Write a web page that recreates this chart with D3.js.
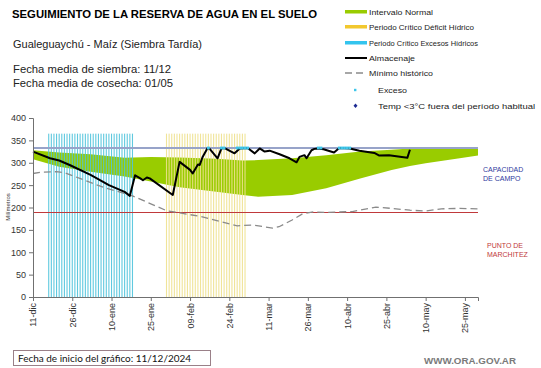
<!DOCTYPE html>
<html>
<head>
<meta charset="UTF-8">
<script src="https://cdn.jsdelivr.net/npm/d3@7/dist/d3.min.js"></script>
<style>
  body { margin: 0; background: #fff; }
  text { font-family: "Liberation Sans", Arial, sans-serif; }
</style>
</head>
<body>
<svg width="541" height="368"></svg>
<script>
// days counted from 11-dic-2024
var tickDays = [0, 15, 30, 45, 60, 75, 90, 105, 120, 135, 150, 165];
var tickLabels = ["11-dic", "26-dic", "10-ene", "25-ene", "09-feb", "24-feb",
                  "11-mar", "26-mar", "10-abr", "25-abr", "10-may", "25-may"];
var yTicks = [0, 50, 100, 150, 200, 250, 300, 350, 400];

// intervalo normal (banda verde)
var normalDays  = [0, 10, 22, 35, 45, 56, 70, 80, 86, 99, 112, 125, 137, 144, 150, 163, 170];
var normalUpper = [328, 323, 319, 311, 313, 312, 309, 305, 306, 310, 317, 325, 329, 332, 333, 333, 333];
var normalLower = [308, 291, 280, 269, 258, 245, 235, 228, 224, 228, 243, 265, 284, 293, 299, 310, 316];

// almacenaje
var almDays = [0, 6.5, 10, 14, 22, 29, 35, 37, 39, 41, 42, 43.5, 44.6, 53.4, 56, 60, 61, 63, 63.7, 64.8,
               66.7, 67.5, 70.5, 72, 73, 77, 79, 82, 84.7, 86.6, 88.5, 90.4, 94.2, 98, 100.7, 101.8,
               103.7, 104.5, 106.4, 107.5, 108.7, 111, 115, 117, 121, 124.7, 130.4, 132.3, 136, 143, 144];
var almVals = [325, 310, 305, 295, 273, 250, 235, 226, 272, 265, 261, 267, 265, 228, 302, 284, 276, 296, 295, 313,
               333, 331, 310, 332, 333, 321, 332, 333, 321, 332, 325, 327, 319, 310, 301, 313,
               317, 310, 328, 331, 332, 330, 323, 333, 332, 327, 322, 316, 317, 311, 329];

// minimo historico
var minDays = [0, 3, 9, 12, 26, 38, 51, 64, 78, 84, 91.5, 94, 99, 103, 107, 112, 122, 131, 137, 144, 150, 156, 163, 170];
var minVals = [276, 279, 280, 278, 247, 226, 193, 180, 159, 161, 154, 157, 172, 186, 190, 189, 191, 201, 198, 194, 192, 197, 198, 197];

// dias con exceso
var excesoDays = [67, 72, 73, 78, 79, 80, 81, 82, 109, 110, 117, 118, 119, 120, 121];

// periodos criticos [desde, hasta]
var periodoExcesos = [6, 38];
var periodoDeficit = [51, 81];
var barTop = 365;

var capacidadCampo = 333;
var puntoMarchitez = 191;

var svg = d3.select("svg");
var x = d3.scaleLinear().domain([0, 170]).range([33, 478]);
var y = d3.scaleLinear().domain([0, 400]).range([297, 118]);

// banda normal
var band = normalDays.map(function(d, i) { return {d: d, hi: normalUpper[i], lo: normalLower[i]}; });
svg.append("path")
  .datum(band)
  .attr("fill", "#99cc00")
  .attr("d", d3.area().x(function(p) { return x(p.d); })
    .y0(function(p) { return y(p.lo); }).y1(function(p) { return y(p.hi); }));

// barras de periodos criticos
function bars(range, color) {
  svg.append("g").selectAll("rect")
    .data(d3.range(range[0], range[1] + 1))
    .enter().append("rect")
    .attr("x", function(d) { return x(d) - 0.55; })
    .attr("y", y(barTop))
    .attr("width", 1.1)
    .attr("height", y(0) - y(barTop))
    .attr("fill", color)
    .attr("opacity", 0.9);
}
bars(periodoExcesos, "#4fc3dc");
bars(periodoDeficit, "#eee18e");

// lineas de capacidad y marchitez
var yCap = Math.round(y(capacidadCampo));
var yMar = Math.round(y(puntoMarchitez)) + 0.5;
svg.append("line").attr("x1", x(0)).attr("x2", x(170))
  .attr("y1", yCap).attr("y2", yCap)
  .attr("stroke", "#97a3c9").attr("stroke-width", 2);
svg.append("line").attr("x1", x(0)).attr("x2", x(170))
  .attr("y1", yMar).attr("y2", yMar)
  .attr("stroke", "#c0393b").attr("stroke-width", 1);

// minimo historico
svg.append("path")
  .datum(minDays.map(function(d, i) { return [d, minVals[i]]; }))
  .attr("fill", "none").attr("stroke", "#8a8a8a").attr("stroke-width", 1.3)
  .attr("stroke-dasharray", "7,4")
  .attr("d", d3.line().x(function(p) { return x(p[0]); }).y(function(p) { return y(p[1]); }));

// almacenaje
svg.append("path")
  .datum(almDays.map(function(d, i) { return [d, almVals[i]]; }))
  .attr("fill", "none").attr("stroke", "#000").attr("stroke-width", 2)
  .attr("stroke-linejoin", "round")
  .attr("d", d3.line().x(function(p) { return x(p[0]); }).y(function(p) { return y(p[1]); }));

// exceso
svg.append("g").selectAll("rect")
  .data(excesoDays)
  .enter().append("rect")
  .attr("x", function(d) { return x(d) - 1.4; })
  .attr("y", y(capacidadCampo) - 1.4)
  .attr("width", 2.8).attr("height", 2.8)
  .attr("fill", "#3ec6ea");

// ejes
var yAxis = svg.append("g").attr("transform", "translate(33,0)")
  .call(d3.axisLeft(y).tickValues(yTicks).tickSize(4).tickPadding(3));
var xAxis = svg.append("g").attr("transform", "translate(0,297)")
  .call(d3.axisBottom(x).tickValues(tickDays).tickSize(4)
    .tickFormat(function(d, i) { return tickLabels[i]; }));
[yAxis, xAxis].forEach(function(a) {
  a.select(".domain").attr("stroke", "#707070");
  a.selectAll(".tick line").attr("stroke", "#707070");
  a.selectAll("text").attr("fill", "#333").style("font-size", "9px")
    .style("font-family", "Liberation Sans, Arial, sans-serif");
});
xAxis.selectAll("text")
  .attr("transform", "rotate(-90)")
  .attr("text-anchor", "end")
  .attr("x", -6).attr("y", 0).attr("dy", "0.33em");

svg.append("text")
  .attr("transform", "translate(10,207) rotate(-90)")
  .attr("text-anchor", "middle")
  .style("font-size", "6px").attr("fill", "#333")
  .text("Milímetros");

// textos
svg.append("text").attr("x", 12).attr("y", 18)
  .style("font-size", "10px").style("font-weight", "bold")
  .attr("textLength", 305).attr("lengthAdjust", "spacingAndGlyphs")
  .text("SEGUIMIENTO DE LA RESERVA DE AGUA  EN EL SUELO");
svg.append("text").attr("x", 13).attr("y", 48).style("font-size", "11px").attr("fill", "#222")
  .attr("textLength", 189).attr("lengthAdjust", "spacingAndGlyphs")
  .text("Gualeguaychú  - Maíz  (Siembra Tardía)");
svg.append("text").attr("x", 13).attr("y", 73).style("font-size", "11px").attr("fill", "#222")
  .attr("textLength", 158).attr("lengthAdjust", "spacingAndGlyphs")
  .text("Fecha media de siembra: 11/12");
svg.append("text").attr("x", 13).attr("y", 87).style("font-size", "11px").attr("fill", "#222")
  .attr("textLength", 160).attr("lengthAdjust", "spacingAndGlyphs")
  .text("Fecha media de cosecha: 01/05");

svg.append("text").attr("x", 483).attr("y", 172).style("font-size", "7px").attr("fill", "#2e3a9e").text("CAPACIDAD");
svg.append("text").attr("x", 483).attr("y", 181).style("font-size", "7px").attr("fill", "#2e3a9e").text("DE  CAMPO");
svg.append("text").attr("x", 487).attr("y", 248).style("font-size", "7px").attr("fill", "#c0393b").text("PUNTO  DE");
svg.append("text").attr("x", 487).attr("y", 257).style("font-size", "7px").attr("fill", "#c0393b").text("MARCHITEZ");

// leyenda
var lg = svg.append("g");
lg.append("rect").attr("x", 345).attr("y", 10).attr("width", 22).attr("height", 3.5).attr("fill", "#99cc00");
lg.append("rect").attr("x", 345).attr("y", 25).attr("width", 22).attr("height", 3.5).attr("fill", "#f2c82e");
lg.append("rect").attr("x", 345).attr("y", 41).attr("width", 22).attr("height", 3.5).attr("fill", "#33c4ee");
lg.append("line").attr("x1", 345).attr("x2", 367).attr("y1", 58).attr("y2", 58).attr("stroke", "#000").attr("stroke-width", 2);
lg.append("line").attr("x1", 345).attr("x2", 367).attr("y1", 73).attr("y2", 73)
  .attr("stroke", "#8a8a8a").attr("stroke-width", 1.5).attr("stroke-dasharray", "7,4");
lg.append("rect").attr("x", 354).attr("y", 88.8).attr("width", 2.4).attr("height", 2.4).attr("fill", "#3ec6ea");
lg.append("path").attr("d", "M355.5,103.5 L357.5,105.8 L355.5,108.1 L353.5,105.8 Z").attr("fill", "#1c2a92");
var legendTexts = [
  ["Intervalo Normal", 369, 14.5, 64],
  ["Periodo Crítico Déficit Hídrico", 369, 29.5, 105],
  ["Periodo Crítico Excesos Hídricos", 369, 45.5, 109],
  ["Almacenaje", 369, 61, 46],
  ["Mínimo histórico", 369, 76, 64],
  ["Exceso", 378, 93, 29],
  ["Temp <3°C fuera del período habitual", 378, 109, 157]
];
lg.selectAll("text").data(legendTexts).enter().append("text")
  .attr("x", function(d) { return d[1]; }).attr("y", function(d) { return d[2]; })
  .attr("textLength", function(d) { return d[3]; }).attr("lengthAdjust", "spacingAndGlyphs")
  .style("font-size", "8px").attr("fill", "#222")
  .text(function(d) { return d[0]; });

// pie
svg.append("rect").attr("x", 13.5).attr("y", 350.5).attr("width", 197).attr("height", 15)
  .attr("fill", "none").attr("stroke", "#9a8088").attr("stroke-width", 1);
svg.append("text").attr("x", 18).attr("y", 361.5)
  .style("font-size", "10px").style("font-family", "Lato, sans-serif").attr("fill", "#111")
  .attr("textLength", 173).attr("lengthAdjust", "spacingAndGlyphs")
  .text("Fecha de inicio del gráfico:   11/12/2024");
svg.append("text").attr("x", 424).attr("y", 364)
  .style("font-size", "9px").style("font-weight", "bold").attr("fill", "#7a7a7a")
  .attr("textLength", 92).attr("lengthAdjust", "spacingAndGlyphs")
  .text("WWW.ORA.GOV.AR");
</script>
</body>
</html>
